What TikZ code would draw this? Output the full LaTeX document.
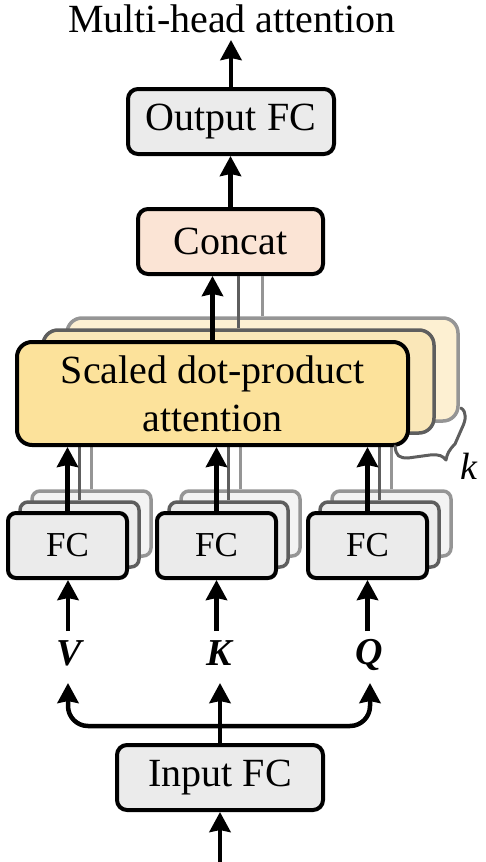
\documentclass[tikz,border=0pt]{standalone}
\usepackage{fontspec}
\newfontfamily\tnr{Liberation Serif}
\usetikzlibrary{arrows.meta,calc}
\definecolor{boxgray}{HTML}{EBEBEB}
\definecolor{boxgraytwo}{HTML}{EDEDED}
\definecolor{boxgraythree}{HTML}{F3F3F3}
\definecolor{peach}{HTML}{FBE4D5}
\definecolor{gold}{HTML}{FCE29B}
\definecolor{goldtwo}{HTML}{FAE7B8}
\definecolor{goldthree}{HTML}{FDF0D2}
\definecolor{edgetwo}{HTML}{5E5E5E}
\definecolor{edgethree}{HTML}{959595}
\tikzset{
  box/.style={draw=black, line width=4pt, rounded corners=10pt, inner sep=0pt, align=center},
  backtwo/.style={draw=edgetwo, line width=3.5pt, rounded corners=10pt, inner sep=0pt},
  backthree/.style={draw=edgethree, line width=3.5pt, rounded corners=10pt, inner sep=0pt},
  arr/.style={line width=4.5pt, -{Stealth[length=20pt,width=21pt,inset=2pt]}},
  grayline/.style={line width=3.5pt, draw=edgetwo},
  graylinethree/.style={line width=3.5pt, draw=edgethree},
  big/.style={font=\tnr\fontsize{40}{48}\selectfont},
  mid/.style={font=\tnr\fontsize{35}{42}\selectfont},
  lbl/.style={font=\tnr\fontsize{38}{44}\selectfont\bfseries\itshape, inner sep=0pt}
}
\begin{document}
\begin{tikzpicture}[x=1pt,y=1pt]
\useasboundingbox (0,0) rectangle (486,-862);

% title
\node[big, anchor=base, inner sep=0pt] (title) at (232,-32) {Multi-head attention};

% output FC and concat
\node[box, fill=boxgray, big, minimum width=206pt, minimum height=65pt] (outfc) at (231,-121.5) {Output FC};
\node[box, fill=peach, big, minimum width=185pt, minimum height=65pt] (concat) at (230.5,-241.5) {Concat};

% SDPA back layers
\node[backthree, fill=goldthree, rounded corners=15pt, minimum width=391pt, minimum height=103pt] (sdpathree) at (262.5,-369.5) {};
\node[backtwo, fill=goldtwo, rounded corners=15pt, minimum width=391pt, minimum height=103pt] (sdpatwo) at (238.5,-381.5) {};

% FC back layers
\foreach \n/\x in {V/67.5, K/216.5, Q/367.5}{
  \node[backthree, fill=boxgraythree, rounded corners=8pt, minimum width=119pt, minimum height=65pt] (fc\n three) at (\x+24,-523.5) {};
  \node[backtwo, fill=boxgraytwo, rounded corners=8pt, minimum width=119pt, minimum height=65pt] (fc\n two) at (\x+12,-534.5) {};
}

% gray connectors of back layers
\foreach \n in {V,K,Q}{
  \draw[graylinethree] (fc\n three.north) -- (fc\n three.north |- sdpathree.south);
  \draw[grayline] (fc\n two.north) -- (fc\n two.north |- sdpatwo.south);
}
\draw[graylinethree] (sdpathree.north) -- (sdpathree.north |- concat.south);
\draw[grayline] (sdpatwo.north) -- (sdpatwo.north |- concat.south);

% SDPA front
\node[box, fill=gold, big, rounded corners=15pt, minimum width=391pt, minimum height=103pt] (sdpa) at (212.5,-393.5) {Scaled dot-product\\attention};

% FC front
\foreach \n/\x in {V/67.5, K/216.5, Q/367.5}{
  \node[box, fill=boxgray, mid, rounded corners=8pt, minimum width=119pt, minimum height=65pt] (fc\n) at (\x,-545.5) {FC};
}

% labels
\node[lbl] (V) at (69,-653) {V};
\node[lbl] (K) at (219,-653) {K};
\node[lbl] (Q) at (369,-655) {Q};

% input FC
\node[box, fill=boxgray, big, minimum width=206pt, minimum height=65pt] (inp) at (220,-777.5) {Input FC};
\coordinate (src) at (220,-862);
\coordinate (split) at (220,-726);
\coordinate (vtip) at (68,-683);
\coordinate (ktip) at (220,-683);
\coordinate (qtip) at (370,-683);
\coordinate (vbase) at (68,-631);
\coordinate (kbase) at (216.5,-631);
\coordinate (qbase) at (367.5,-631);

% black arrows
\draw[arr] (outfc.north) -- ([yshift=-8pt]title.base -| outfc.north);
\draw[arr] (concat.north) -- (concat.north |- outfc.south);
\draw[arr] (sdpa.north) -- (sdpa.north |- concat.south);
\foreach \n in {V,K,Q}{
  \draw[arr] (fc\n.north) -- (fc\n.north |- sdpa.south);
}
\draw[arr] (vbase) -- (vbase |- fcV.south);
\draw[arr] (kbase) -- (kbase |- fcK.south);
\draw[arr] (qbase) -- (qbase |- fcQ.south);
\draw[arr] (inp.north) -- (ktip);
\draw[arr, rounded corners=20pt] (split) -| (vtip);
\draw[arr, rounded corners=20pt] (split) -| (qtip);
\draw[arr] (src) -- (inp.south);

% brace
\coordinate (bra) at (395,-446);
\coordinate (brb) at (461,-408);
\draw[line width=3pt, draw=edgetwo, line cap=round, line join=round]
  (bra) .. controls (396,-456) and (399,-458) .. (408,-458)
  -- (430,-455) .. controls (439,-454) and (443,-456) .. (446,-460)
  .. controls (447,-454) and (449,-450) .. (455,-444)
  -- (462,-428) .. controls (466,-420) and (467,-412) .. (brb);
\node[font=\tnr\fontsize{38}{44}\selectfont\itshape, inner sep=0pt] (k) at (469,-466) {k};
\end{tikzpicture}
\end{document}
